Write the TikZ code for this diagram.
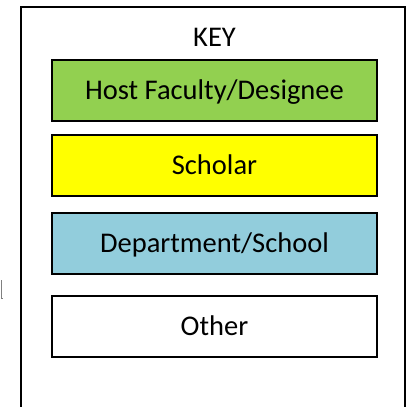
\documentclass[tikz,border=0pt]{standalone}
\usepackage{fontspec}
\setmainfont{Carlito}
\usepackage{xcolor}
\definecolor{hostgreen}{RGB}{146,208,80}
\definecolor{scholaryellow}{RGB}{255,255,0}
\definecolor{deptblue}{RGB}{146,205,220}

\begin{document}
\begin{tikzpicture}[x=1pt,y=-1pt,semithick]
  \tikzstyle{every node}=[font=\fontsize{28.5}{34}\selectfont,text height=18.4pt,text depth=0pt]
  \tikzstyle{keybox}=[draw=black,line width=1.5pt,minimum width=325pt,minimum height=61pt,inner sep=0pt]

  \useasboundingbox (0,0) rectangle (408,407);
  \clip (0,0) rectangle (408,407);

  % frame of the legend, runs off the bottom
  \draw[line width=1.5pt] (21,420) -- (21,7) -- (405,7) -- (405,420);
  % stray mark on the left
  \draw[gray,line width=0.8pt] (1,280) -- (1,298) -- (3,298);

  \node (title)                 at (214.5,37)    {KEY};
  \node[keybox,fill=hostgreen]     (host)    at (214.5,90.3)  {Host Faculty/Designee};
  \node[keybox,fill=scholaryellow] (scholar) at (214.5,165.5) {Scholar};
  \node[keybox,fill=deptblue]      (dept)    at (214.5,243.3) {Department/School};
  \node[keybox,fill=white]         (other)   at (214.5,326.5) {Other};
\end{tikzpicture}
\end{document}
